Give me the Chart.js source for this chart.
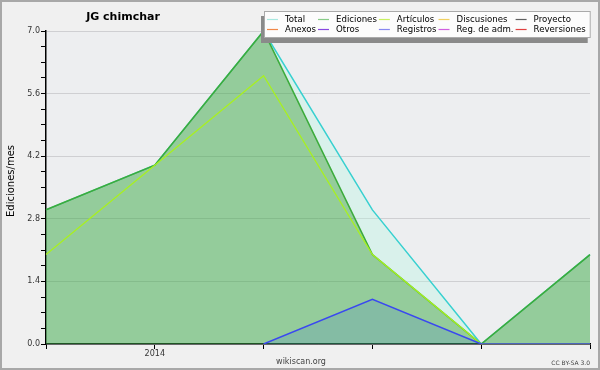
<!DOCTYPE html>
<html>
<head>
<meta charset="utf-8">
<script src="https://cdn.jsdelivr.net/npm/chart.js@4.4.0/dist/chart.umd.min.js"></script>
<style>
    html, body { margin: 0; padding: 0; background: #f0f0f0; }
    #wrap { width: 600px; height: 370px; }
</style>
</head>
<body>
<div id="wrap"><canvas id="chart" width="600" height="370"></canvas></div>
<script>
// Chart data
const months = ['2013-12', '2014-01', '2014-02', '2014-03', '2014-04', '2014-05'];
const tickLabels = ['', '2014', '', '', '', ''];
const totalData = [3, 4, 7, 3, 0, 2];
const edicionesData = [3, 4, 7, 2, 0, 2];
const articulosData = [2, 4, 6, 2, 0, 0];
const registrosData = [null, null, 0, 1, 0, 0];
const yMax = 7;
const yStep = 0.35;
const yLabelStep = 1.4;

// Legend (column by column, two rows)
const legendLabels = ['Total', 'Anexos', 'Ediciones', 'Otros', 'Artículos', 'Registros',
    'Discusiones', 'Reg. de adm.', 'Proyecto', 'Reversiones'];
const legendColors = ['#a8e8e0', '#f08848', '#88cc88', '#8848e0', '#c8f060', '#8888f0',
    '#f0d060', '#d060e0', '#606060', '#e04040'];

const FONT = "'DejaVu Sans', sans-serif";

function isLabelTick(v) {
    const r = v / yLabelStep;
    return Math.abs(r - Math.round(r)) < 1e-6;
}

// Background, title, legend box and footer texts
const decorPlugin = {
    id: 'decor',
    beforeDraw(chart) {
        const ctx = chart.ctx;
        const a = chart.chartArea;
        ctx.save();
        ctx.fillStyle = '#f0f0f0';
        ctx.fillRect(0, 0, chart.width, chart.height);
        ctx.fillStyle = '#edeef0';
        ctx.fillRect(a.left, a.top, a.right - a.left, a.bottom - a.top);
        ctx.restore();
    },
    afterDraw(chart) {
        const ctx = chart.ctx;
        ctx.save();

        // title
        ctx.fillStyle = '#000';
        ctx.font = 'bold 11px ' + FONT;
        ctx.textAlign = 'center';
        ctx.textBaseline = 'middle';
        ctx.fillText('JG chimchar', 123, 17);

        // y axis title
        ctx.save();
        ctx.translate(11, 181);
        ctx.rotate(-Math.PI / 2);
        ctx.font = '10px ' + FONT;
        ctx.fillText('Ediciones/mes', 0, 0);
        ctx.restore();

        // footer
        ctx.fillStyle = '#444';
        ctx.font = '8px ' + FONT;
        ctx.fillText('wikiscan.org', 301, 362);
        ctx.font = '6px ' + FONT;
        ctx.textAlign = 'right';
        ctx.fillText('CC BY-SA 3.0', 590, 363);

        // legend
        ctx.font = '8.6px ' + FONT;
        ctx.textAlign = 'left';
        const cols = [];
        let x = 267;
        for (let c = 0; c < legendLabels.length / 2; c++) {
            cols.push(x);
            const w = Math.max(ctx.measureText(legendLabels[c * 2]).width,
                ctx.measureText(legendLabels[c * 2 + 1]).width);
            x += 18 + w + 2;
        }
        const boxL = 264, boxT = 11, boxR = x + 3, boxB = 38;
        ctx.fillStyle = '#8a8a8a';
        ctx.fillRect(boxL - 3, boxT + 5, boxR - boxL, boxB - boxT);
        ctx.fillStyle = '#fcfcfc';
        ctx.fillRect(boxL, boxT, boxR - boxL, boxB - boxT);
        ctx.strokeStyle = '#aaa';
        ctx.lineWidth = 1;
        ctx.strokeRect(boxL + 0.5, boxT + 0.5, boxR - boxL - 1, boxB - boxT - 1);

        legendLabels.forEach((label, i) => {
            const cx = cols[Math.floor(i / 2)];
            const cy = i % 2 === 0 ? 19.5 : 29.5;
            ctx.strokeStyle = legendColors[i];
            ctx.lineWidth = 1.2;
            ctx.beginPath();
            ctx.moveTo(cx, cy);
            ctx.lineTo(cx + 11, cy);
            ctx.stroke();
            ctx.fillStyle = '#000';
            ctx.fillText(label, cx + 18, cy);
        });

        // outer frame
        ctx.strokeStyle = '#a8a8a8';
        ctx.lineWidth = 2;
        ctx.strokeRect(1, 1, chart.width - 2, chart.height - 2);
        ctx.restore();
    }
};

function emptySeries(i) {
    return { label: legendLabels[i], data: [], borderColor: legendColors[i], pointRadius: 0 };
}

const datasets = legendLabels.map((l, i) => emptySeries(i));
datasets[0] = {
    label: 'Total', data: totalData, order: 4,
    borderColor: '#38d0d0', borderWidth: 1.5,
    backgroundColor: 'rgba(180,245,225,0.35)', fill: 2,
    pointRadius: 0, tension: 0
};
datasets[2] = {
    label: 'Ediciones', data: edicionesData, order: 3,
    borderColor: '#3cac3c', borderWidth: 1.6,
    backgroundColor: 'rgba(60,170,70,0.5)', fill: 'origin',
    pointRadius: 0, tension: 0
};
datasets[4] = {
    label: 'Artículos', data: articulosData, order: 2,
    borderColor: '#a8f020', borderWidth: 1.3,
    fill: false, pointRadius: 0, tension: 0
};
datasets[5] = {
    label: 'Registros', data: registrosData, order: 1,
    borderColor: '#3a48f0', borderWidth: 1.5,
    backgroundColor: 'rgba(40,100,220,0.15)', fill: 'origin',
    pointRadius: 0, tension: 0
};

const chart = new Chart(document.getElementById('chart'), {
    type: 'line',
    data: { labels: months, datasets: datasets },
    options: {
        responsive: false,
        animation: false,
        devicePixelRatio: 1,
        layout: { padding: { left: 0, right: 10, top: 31, bottom: 0 } },
        plugins: {
            legend: { display: false },
            tooltip: { enabled: false },
            filler: { propagate: false }
        },
        scales: {
            x: {
                offset: false,
                afterFit(scale) { scale.height = 26; },
                grid: { drawOnChartArea: false, drawTicks: true, tickLength: 5, tickColor: '#000' },
                border: { display: true, color: '#000', width: 1.5 },
                ticks: {
                    autoSkip: false, maxRotation: 0, padding: 0,
                    color: '#333', font: { family: FONT, size: 8 },
                    callback: (v, i) => tickLabels[i]
                }
            },
            y: {
                min: 0, max: yMax,
                afterFit(scale) { scale.width = 46; },
                grid: {
                    color: ctx => (ctx.tick && isLabelTick(ctx.tick.value)) ? '#cfcfd2' : 'rgba(0,0,0,0)',
                    tickColor: '#000', tickLength: 5, drawTicks: true
                },
                border: { display: true, color: '#000', width: 1.5 },
                ticks: {
                    stepSize: yStep, autoSkip: false, padding: 1,
                    color: '#333', font: { family: FONT, size: 8 },
                    callback: v => isLabelTick(v) ? v.toFixed(1) : ''
                }
            }
        }
    },
    plugins: [decorPlugin]
});
</script>
</body>
</html>
